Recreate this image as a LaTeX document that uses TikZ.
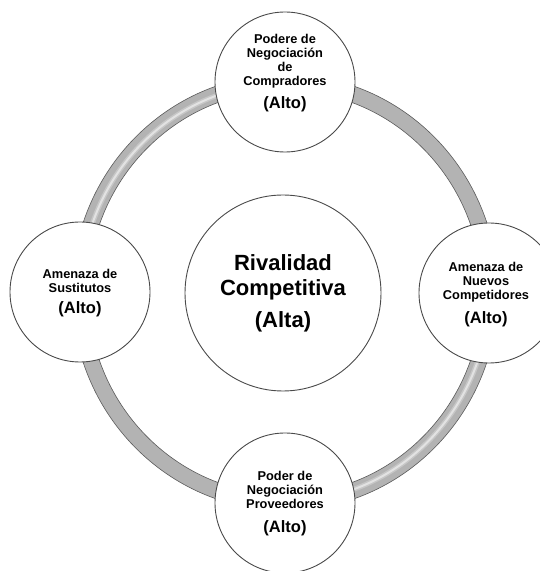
\documentclass[tikz,border=0pt]{standalone}
\usepackage{fontspec}
\setmainfont{Liberation Sans}
\definecolor{ringgray}{HTML}{B3B3B3}
\definecolor{ringedge}{HTML}{5A5A5A}
\definecolor{circedge}{HTML}{4A4A4A}
\newcommand\altofont{\fontsize{16.5}{18}\selectfont}
\begin{document}
\begin{tikzpicture}[x=1pt,y=1pt,
  ringband/.style={fill=ringgray, draw=ringedge, line width=0.6pt, even odd rule},
  shinewide/.style={draw=white, line width=5pt, opacity=0.25},
  shine/.style={draw=white, line width=2pt, opacity=0.5},
  force/.style={circle, draw=circedge, fill=white, line width=0.9pt, minimum size=140pt, inner sep=0pt},
  core/.style={force, minimum size=196pt},
  smalltext/.style={align=center, font=\fontsize{12.8}{14}\selectfont\bfseries, inner sep=0pt},
  bigtext/.style={align=center, font=\fontsize{22}{25}\selectfont\bfseries, inner sep=0pt}]
\useasboundingbox (0,0) rectangle (540,571);
\coordinate (c) at (285,278.5);
% ring
\path[ringband] (c) ellipse [x radius=213, y radius=218] (c) ellipse [x radius=197, y radius=202];
\draw[shinewide] (c) ++(100:204 and 209) arc[start angle=100, end angle=196, x radius=204, y radius=209];
\draw[shinewide] (c) ++(284:204 and 209) arc[start angle=284, end angle=356, x radius=204, y radius=209];
\draw[shine] (c) ++(100:204 and 209) arc[start angle=100, end angle=196, x radius=204, y radius=209];
\draw[shine] (c) ++(284:204 and 209) arc[start angle=284, end angle=356, x radius=204, y radius=209];
% circles
\node[force] (buyers) at (285,489) {};
\node[force] (subs) at (80,279) {};
\node[force] (entrants) at (489,278) {};
\node[force] (suppliers) at (285,68) {};
\node[core] (rivalry) at (283,278) {};
% texts
\node[smalltext] (buyerstxt) at (285,498) {Podere de\\Negociación\\de\\Compradores\\[7.7pt]{\altofont (Alto)}};
\node[smalltext] (substxt) at (80,278) {Amenaza de\\Sustitutos\\[7.7pt]{\altofont (Alto)}};
\node[smalltext] (entrantstxt) at (486,276.5) {Amenaza de\\Nuevos\\Competidores\\[8.7pt]{\altofont (Alto)}};
\node[smalltext] (supplierstxt) at (285,67) {Poder de\\Negociación\\Proveedores\\[10pt]{\altofont (Alto)}};
\node[bigtext] (rivalrytxt) at (283,277.3) {Rivalidad\\Competitiva\\[6.8pt](Alta)};
\end{tikzpicture}
\end{document}
